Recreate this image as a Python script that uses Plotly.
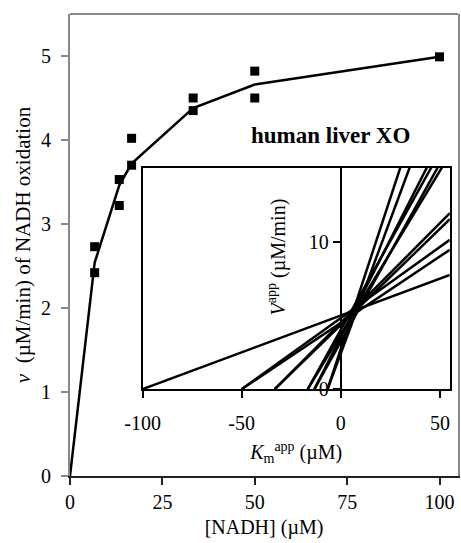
import plotly.graph_objects as go

# ---- data ----
nadh = [6.67, 6.67, 13.33, 13.33, 16.67, 16.67, 33.33, 33.33, 50, 50, 100]
rate = [2.42, 2.73, 3.22, 3.53, 3.70, 4.02, 4.35, 4.50, 4.50, 4.82, 4.99]
fit_x = [0, 6.67, 13.33, 16.67, 33.33, 50, 100]
fit_y = [0, 2.54, 3.46, 3.72, 4.38, 4.66, 4.99]
main_xticks = [0, 25, 50, 75, 100]
main_yticks = [0, 1, 2, 3, 4, 5]
inset_xticks = [-100, -50, 0, 50]
inset_yticks = [0, 10]

FONT = "Liberation Serif"
X2_RANGE = [-100, 55]
Y2_RANGE = [0, 15]
X2_DOM = [0.187, 0.979]
Y2_DOM = [0.188, 0.667]

fig = go.Figure()

fig.add_trace(go.Scatter(x=fit_x, y=fit_y, mode="lines",
                         line=dict(color="black", width=2.5), xaxis="x", yaxis="y"))
fig.add_trace(go.Scatter(x=nadh, y=rate, mode="markers",
                         marker=dict(symbol="square", size=9, color="black"),
                         xaxis="x", yaxis="y"))

# direct linear plot lines: through (-S, 0) and (0, v)
lx, ly = [], []
xe = X2_RANGE[1]
for s, v in zip(nadh, rate):
    lx += [-s, xe, None]
    ly += [0, v * (1 + xe / s), None]
fig.add_trace(go.Scatter(x=lx, y=ly, mode="lines",
                         line=dict(color="black", width=2.5), xaxis="x2", yaxis="y2"))
# invisible trace so the inner y axis (at x = 0) is drawn
fig.add_trace(go.Scatter(x=[0], y=[0], mode="markers", marker=dict(opacity=0),
                         hoverinfo="skip", xaxis="x2", yaxis="y3"))

pos_y3 = X2_DOM[0] + (0 - X2_RANGE[0]) / (X2_RANGE[1] - X2_RANGE[0]) * (X2_DOM[1] - X2_DOM[0])

tf = dict(family=FONT, size=20, color="black")

fig.update_layout(
    width=461, height=543,
    margin=dict(l=70, r=1, t=14, b=67),
    paper_bgcolor="white", plot_bgcolor="white",
    showlegend=False,
    font=tf,
    xaxis=dict(domain=[0, 1], range=[0, 105], tickvals=main_xticks,
               showline=True, linecolor="#222", linewidth=2, mirror=False,
               ticks="outside", ticklen=7, tickcolor="#222", tickwidth=1.5,
               showgrid=False, zeroline=False, tickfont=tf,
               title=dict(text="[NADH] (µM)", font=tf, standoff=8)),
    yaxis=dict(domain=[0, 1], range=[0, 5.5], tickvals=main_yticks,
               showline=True, linecolor="#888", linewidth=2, mirror=True,
               ticks="outside", ticklen=7, tickcolor="#888", tickwidth=1.5,
               showgrid=False, zeroline=False, tickfont=tf, ticklabelstandoff=6,
               title=dict(text="<i>v</i>  (µM/min) of NADH oxidation",
                          font=dict(family=FONT, size=21, color="black"), standoff=5)),
    xaxis2=dict(domain=X2_DOM, range=X2_RANGE, anchor="y2", tickvals=inset_xticks,
                ticktext=[str(t) for t in inset_xticks],
                showline=True, linecolor="black", linewidth=2, mirror=True,
                ticks="outside", ticklen=7, tickcolor="black", tickwidth=2,
                showgrid=False, zeroline=False, tickfont=tf, ticklabelstandoff=8,
                title=dict(text="<i>K</i><sub>m</sub><sup>app</sup> (µM)", font=tf, standoff=12)),
    yaxis2=dict(domain=Y2_DOM, range=Y2_RANGE, anchor="x2",
                showline=True, linecolor="black", linewidth=2, mirror=True,
                ticks="", showticklabels=False, showgrid=False, zeroline=False),
    yaxis3=dict(range=Y2_RANGE, overlaying="y2", anchor="free", position=pos_y3,
                side="left", tickvals=inset_yticks,
                showline=True, linecolor="black", linewidth=2,
                ticks="outside", ticklen=7, tickcolor="black", tickwidth=2,
                showgrid=False, zeroline=False, tickfont=tf),
    shapes=[dict(type="line", xref="paper", yref="paper", x0=0, x1=1, y0=1, y1=1,
                 line=dict(color="#888", width=2))],
    annotations=[
        dict(text="<b>human liver XO</b>", xref="paper", yref="paper",
             x=0.672, y=0.738, xanchor="center", yanchor="middle",
             showarrow=False, font=dict(family=FONT, size=23, color="black")),
        dict(text="<i>V</i><sup>app</sup> (µM/min)", xref="paper", yref="paper",
             x=0.532, y=0.474, xanchor="center", yanchor="middle", textangle=-90,
             showarrow=False, font=tf),
    ],
)

fig.write_html("out.html")
